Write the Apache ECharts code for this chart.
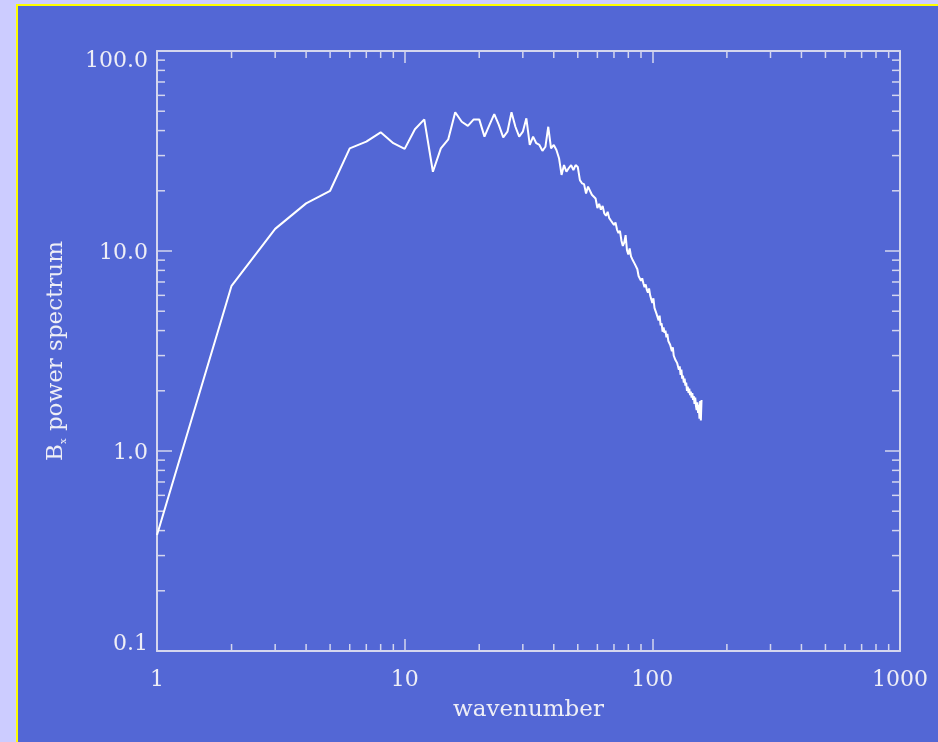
<!DOCTYPE html>
<html>
<head>
<meta charset="utf-8">
<script src="https://cdn.jsdelivr.net/npm/echarts@6/dist/echarts.min.js"></script>
<style>
  html, body { margin: 0; padding: 0; width: 938px; height: 742px; overflow: hidden; background: #ccccff; }
  #panel { position: absolute; left: 16px; top: 4px; width: 960px; height: 760px;
           background: #5367d5; border-top: 2px solid #ffff00; border-left: 2px solid #ffff00; }
  #chart { position: absolute; left: 0; top: 0; width: 938px; height: 742px; }
</style>
</head>
<body>
<div id="panel"></div>
<div id="chart"></div>
<script>
// Power spectrum of B_x versus integer wavenumber k = 1, 2, 3, ...
const power = [
  0.38, 6.7, 12.9, 17.3, 20.0, 32.6, 35.2, 39.2, 34.6, 32.4,
  40.6, 45.5, 24.9, 32.6, 36.2, 49.4, 44.3, 42.2, 45.5, 45.5,
  37.3, 42.7, 48.4, 42.7, 37.0, 39.5, 49.4, 41.8, 37.3, 39.5,
  46.1, 33.9, 37.3, 34.6, 33.9, 31.7, 33.2, 41.8, 32.6, 33.9,
  32.0, 29.1, 24.0, 26.9, 24.9, 26.0, 26.9, 25.4, 26.9, 26.3,
  22.6, 21.8, 21.6, 19.4, 21.0, 20.8, 19.1, 19.4, 18.3, 16.4,
  17.2, 16.1, 16.8, 15.4, 15.0, 15.7, 14.6, 14.2, 14.5, 13.5,
  13.9, 12.8, 12.3, 12.6, 11.3, 10.6, 11.0, 12.0, 10.1, 9.6,
  10.3, 9.4, 9.1, 8.9, 8.6, 8.8, 8.1, 7.5, 7.6, 7.1,
  7.3, 6.9, 6.6, 6.8, 6.4, 6.2, 6.5, 6.0, 5.9, 5.5,
  5.8, 5.2, 5.3, 4.85, 4.95, 4.5, 4.75, 4.25, 4.35, 3.95,
  4.15, 3.9, 4.0, 3.7, 3.85, 3.55, 3.6, 3.4, 3.45, 3.15,
  3.3, 3.0, 3.05, 2.85, 2.9, 2.75, 2.8, 2.55, 2.65, 2.4,
  2.55, 2.3, 2.38, 2.2, 2.3, 2.12, 2.2, 2.0, 2.1, 1.95,
  2.05, 1.9, 1.98, 1.85, 1.95, 1.8, 1.88, 1.72, 1.85, 1.68,
  1.6, 1.75, 1.55, 1.7, 1.45, 1.78, 1.42, 1.8
];
const wavenumber = power.map((_, i) => i + 1);

// Decade tick labels
const xTickLabels = ['1', '10', '100', '1000'];
const yTickLabels = ['0.1', '1.0', '10.0', '100.0'];
const xRange = [1, 1000];
const yRange = [0.1, 100];

const FONT = 'DejaVu Serif';
const TEXT = '#eeeef6';
const FRAME = '#d4d6ee';

// Intermediate (2..9 x 10^n) positions for the minor tick marks
function minorValues(lo, hi) {
  const out = [];
  for (let d = lo; d < hi; d *= 10) {
    for (let m = 2; m <= 9; m++) out.push(+(m * d).toPrecision(3));
  }
  return out;
}
const minorTicks = []
  .concat(minorValues(xRange[0], xRange[1]).map(v => ['x', v]))
  .concat(minorValues(yRange[0], yRange[1]).map(v => ['y', v]));

const chart = echarts.init(document.getElementById('chart'), null, { renderer: 'canvas' });

const decadeIndex = (v, lo) => Math.round(Math.log10(v / lo));

const option = {
  backgroundColor: 'transparent',
  animation: false,
  grid: { left: 157, top: 51, width: 743, height: 600, containLabel: false },
  xAxis: [
    {
      type: 'log', logBase: 10, min: xRange[0], max: xRange[1], position: 'bottom',
      axisLine: { show: true, lineStyle: { color: FRAME, width: 2 } },
      axisTick: { show: true, inside: true, length: 12, lineStyle: { color: FRAME, width: 1.5 } },
      minorTick: { show: false },
      splitLine: { show: false },
      axisLabel: {
        margin: 18, fontFamily: FONT, fontSize: 22, color: TEXT,
        formatter: v => xTickLabels[decadeIndex(v, xRange[0])]
      },
      name: 'wavenumber', nameLocation: 'middle', nameGap: 48,
      nameTextStyle: { fontFamily: FONT, fontSize: 23, color: TEXT }
    },
    {
      type: 'log', logBase: 10, min: xRange[0], max: xRange[1], position: 'top',
      axisLine: { show: true, lineStyle: { color: FRAME, width: 2 } },
      axisTick: { show: true, inside: true, length: 12, lineStyle: { color: FRAME, width: 1.5 } },
      splitLine: { show: false },
      axisLabel: { show: false }
    }
  ],
  yAxis: [
    {
      type: 'log', logBase: 10, min: yRange[0], max: yRange[1], position: 'left',
      axisLine: { show: true, lineStyle: { color: FRAME, width: 2 } },
      axisTick: { show: true, inside: true, length: 15, lineStyle: { color: FRAME, width: 1.5 } },
      splitLine: { show: false },
      axisLabel: {
        margin: 9, fontFamily: FONT, fontSize: 22, color: TEXT,
        formatter: v => {
          const i = decadeIndex(v, yRange[0]);
          const t = yTickLabels[i];
          if (i === yTickLabels.length - 1) return '{hi|' + t + '}';
          if (i === 0) return '{lo|' + t + '}';
          return '{mid|' + t + '}';
        },
        rich: {
          hi: { fontFamily: FONT, fontSize: 22, color: TEXT, padding: [20, 0, 0, 0] },
          lo: { fontFamily: FONT, fontSize: 22, color: TEXT, padding: [0, 0, 14, 0] },
          mid: { fontFamily: FONT, fontSize: 22, color: TEXT, padding: [5, 0, 0, 0] }
        }
      },
      name: '{b|B}{s|x}{n| power spectrum}', nameLocation: 'middle', nameGap: 89,
      nameTextStyle: {
        fontFamily: FONT, fontSize: 23, color: TEXT,
        rich: {
          b: { fontFamily: FONT, fontSize: 23, color: TEXT },
          s: { fontFamily: FONT, fontSize: 10, color: TEXT, verticalAlign: 'bottom' },
          n: { fontFamily: FONT, fontSize: 23, color: TEXT }
        }
      }
    },
    {
      type: 'log', logBase: 10, min: yRange[0], max: yRange[1], position: 'right',
      axisLine: { show: true, lineStyle: { color: FRAME, width: 2 } },
      axisTick: { show: true, inside: true, length: 15, lineStyle: { color: FRAME, width: 1.5 } },
      splitLine: { show: false },
      axisLabel: { show: false }
    }
  ],
  series: [
    {
      name: 'minor ticks',
      type: 'custom',
      xAxisIndex: 0, yAxisIndex: 0,
      silent: true, clip: false, z: 3,
      data: minorTicks,
      renderItem: (params, api) => {
        const item = minorTicks[params.dataIndex];
        const v = item[1];
        const style = { stroke: FRAME, lineWidth: 1.5 };
        let a, b, c, d;
        if (item[0] === 'x') {
          a = api.coord([v, yRange[0]]);
          b = [a[0], a[1] - 7];
          c = api.coord([v, yRange[1]]);
          d = [c[0], c[1] + 7];
        } else {
          a = api.coord([xRange[0], v]);
          b = [a[0] + 8, a[1]];
          c = api.coord([xRange[1], v]);
          d = [c[0] - 8, c[1]];
        }
        return {
          type: 'group',
          children: [
            { type: 'line', shape: { x1: a[0], y1: a[1], x2: b[0], y2: b[1] }, style },
            { type: 'line', shape: { x1: c[0], y1: c[1], x2: d[0], y2: d[1] }, style }
          ]
        };
      }
    },
    {
      name: 'power',
      type: 'line',
      xAxisIndex: 0, yAxisIndex: 0,
      data: wavenumber.map((k, i) => [k, power[i]]),
      showSymbol: false, symbol: 'none',
      lineStyle: { color: '#ffffff', width: 2 },
      z: 4
    }
  ]
};

chart.setOption(option);
</script>
</body>
</html>
